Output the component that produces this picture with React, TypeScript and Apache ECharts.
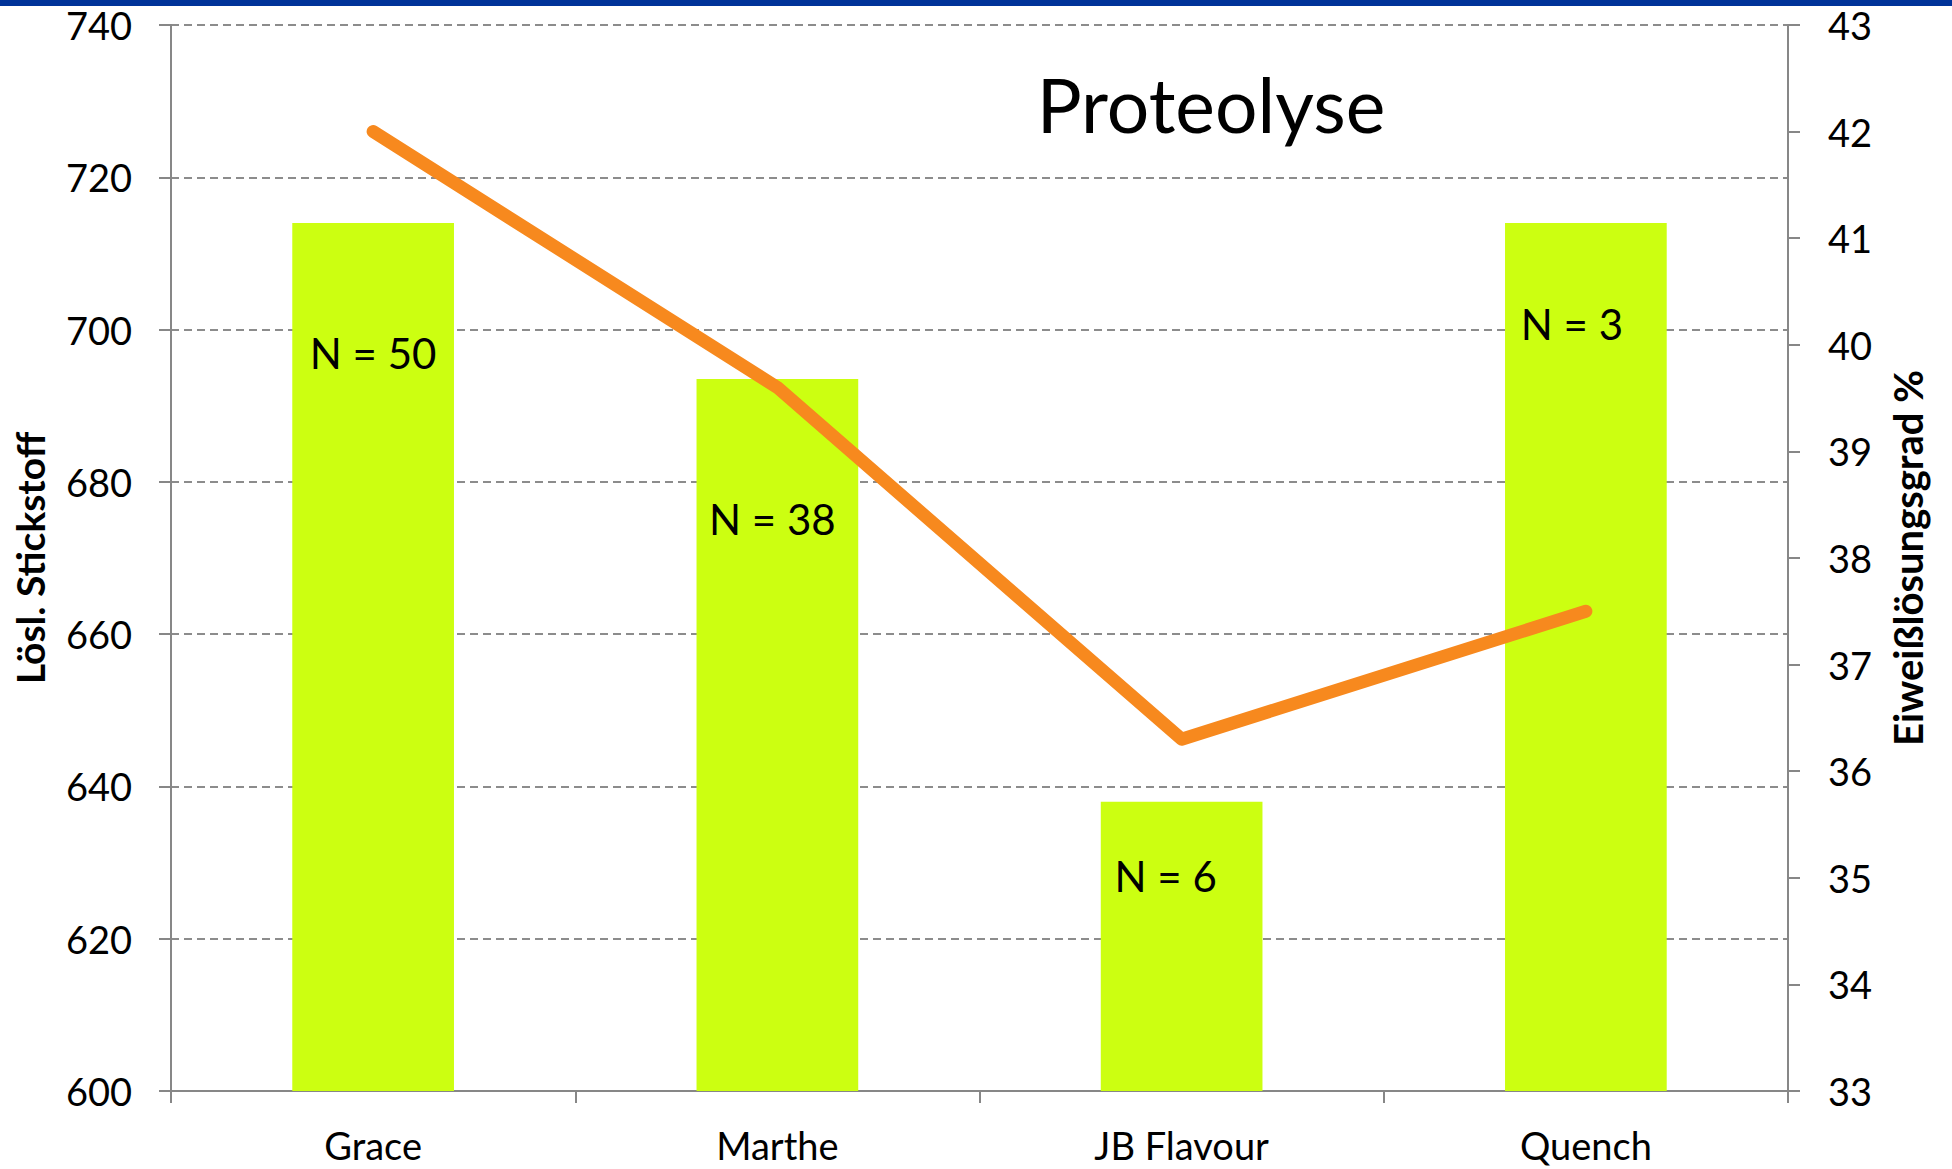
import React, { useEffect, useRef } from "react";
import * as echarts from "echarts";

const categories = ["Grace", "Marthe", "JB Flavour", "Quench"];
const stickstoff = [714, 693.5, 638, 714];
const eiweiss = [42.0, 39.6, 36.3, 37.5];
const nLabels = ["N = 50", "N = 38", "N = 6", "N = 3"];
const labelDy = [130, 140, 74, 101];
const labelDx = [0, -5, -16, -14];

const FONT = "Lato, 'Open Sans', sans-serif";

export default function App() {
  const ref = useRef<HTMLDivElement>(null);
  useEffect(() => {
    if (!ref.current) return;
    const chart = echarts.init(ref.current, null, { renderer: "svg" });
    const axisGray = "#878787";
    chart.setOption({
      animation: false,
      backgroundColor: "#ffffff",
      textStyle: { fontFamily: FONT },
      graphic: [
        {
          type: "rect",
          shape: { x: 0, y: 0, width: 1952, height: 6 },
          style: { fill: "#003399" },
          silent: true,
        },
        {
          type: "text",
          x: 1211,
          y: 104,
          style: {
            text: "Proteolyse",
            font: `normal 75px ${FONT}`,
            fill: "#000000",
            align: "center",
            verticalAlign: "middle",
          },
          z: 100,
        },
      ],
      grid: { left: 171, right: 164, top: 25, bottom: 78, containLabel: false },
      xAxis: {
        type: "category",
        data: categories,
        boundaryGap: true,
        axisLine: { show: true, lineStyle: { color: axisGray, width: 2 } },
        axisTick: { show: true, length: 12, inside: false, lineStyle: { color: axisGray, width: 2 } },
        axisLabel: { color: "#000", fontSize: 38, fontFamily: FONT, margin: 35 },
        splitLine: { show: false },
      },
      yAxis: [
        {
          type: "value",
          min: 600,
          max: 740,
          interval: 20,
          position: "left",
          name: "Lösl. Stickstoff",
          nameLocation: "middle",
          nameRotate: 90,
          nameGap: 122,
          nameTextStyle: { color: "#000", fontSize: 39, fontWeight: "bold", fontFamily: FONT },
          axisLine: { show: true, lineStyle: { color: axisGray, width: 2 } },
          axisTick: { show: true, length: 12, inside: false, lineStyle: { color: axisGray, width: 2 } },
          axisLabel: { color: "#000", fontSize: 38, fontFamily: FONT, margin: 39 },
          splitLine: { show: true, lineStyle: { color: "#8c8c8c", width: 2, type: [8, 5] } },
        },
        {
          type: "value",
          min: 33,
          max: 43,
          interval: 1,
          position: "right",
          name: "Eiweißlösungsgrad %",
          nameLocation: "middle",
          nameRotate: 90,
          nameGap: 100,
          nameTextStyle: { color: "#000", fontSize: 40, fontWeight: "bold", fontFamily: FONT },
          axisLine: { show: true, lineStyle: { color: axisGray, width: 2 } },
          axisTick: { show: true, length: 12, inside: false, lineStyle: { color: axisGray, width: 2 } },
          axisLabel: { color: "#000", fontSize: 38, fontFamily: FONT, margin: 40 },
          splitLine: { show: false },
        },
      ],
      series: [
        {
          type: "bar",
          yAxisIndex: 0,
          barWidth: "40%",
          itemStyle: { color: "#CCFF11" },
          data: stickstoff.map((v, i) => ({
            value: v,
            label: {
              show: true,
              formatter: nLabels[i],
              position: ["50%", labelDy[i]],
              offset: [labelDx[i], 0],
              align: "center",
              verticalAlign: "middle",
              color: "#000",
              fontSize: 42,
              fontFamily: FONT,
            },
          })),
        },
        {
          type: "line",
          yAxisIndex: 1,
          data: eiweiss,
          symbol: "none",
          lineStyle: { color: "#F7891E", width: 13, cap: "round", join: "round" },
          z: 5,
        },
      ],
    });
    return () => chart.dispose();
  }, []);
  return (
    <div
      ref={ref}
      style={{ position: "fixed", left: 0, top: 0, width: 1952, height: 1169 }}
    />
  );
}
